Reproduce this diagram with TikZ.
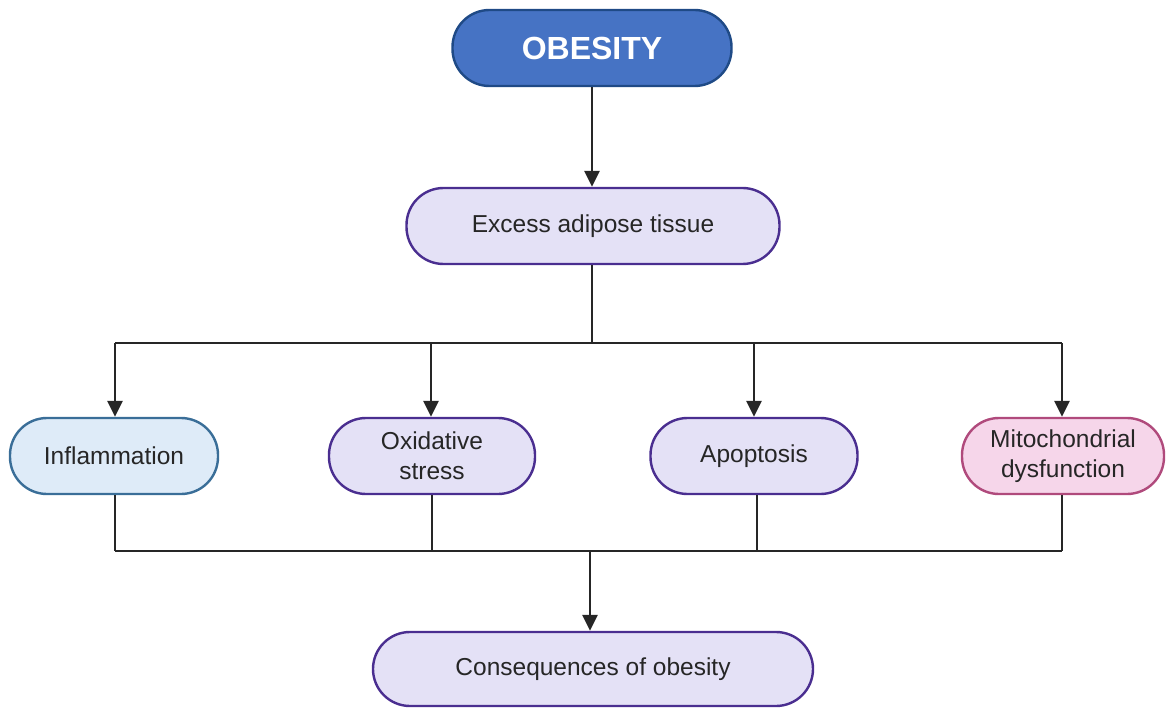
\documentclass[tikz,border=0pt]{standalone}
\usepackage{fontspec}
\setmainfont{Liberation Sans}
\usetikzlibrary{arrows.meta}
\definecolor{lineC}{HTML}{262626}
\definecolor{obFill}{HTML}{4673C4}
\definecolor{obDraw}{HTML}{1F4A86}
\definecolor{lavFill}{HTML}{E4E1F6}
\definecolor{lavDraw}{HTML}{4A2E90}
\definecolor{blueFill}{HTML}{DEEBF8}
\definecolor{blueDraw}{HTML}{3A6E98}
\definecolor{pinkFill}{HTML}{F6D6EA}
\definecolor{pinkDraw}{HTML}{B04A7C}
\definecolor{txt}{HTML}{262626}
\tikzset{
  x=1pt, y=-1pt,
  pill/.style={rectangle, rounded corners=37pt, line width=2.4pt, minimum height=76pt,
    inner sep=0pt, align=center, text=txt, font=\fontsize{24.5}{30}\selectfont},
  lav/.style={pill, fill=lavFill, draw=lavDraw},
  conn/.style={draw=lineC, line width=2.8pt},
  arr/.style={conn, -{Triangle[width=15pt,length=16pt]}},
}
\begin{document}
\begin{tikzpicture}
\useasboundingbox (0,0) rectangle (1166,708);
\node[pill, fill=obFill, draw=obDraw, minimum width=279pt, text=white,
  font=\fontsize{32}{36}\bfseries] (ob) at (592,48) {OBESITY};
\node[lav, minimum width=373pt] (ex) at (593,226) {\raisebox{-2pt}{Excess adipose tissue}};
\node[pill, fill=blueFill, draw=blueDraw, minimum width=208pt] (inf) at (114,456) {\raisebox{-2pt}{Inflammation}};
\node[lav, minimum width=206pt] (ox) at (432,456) {Oxidative\\stress};
\node[lav, minimum width=207pt] (ap) at (754,456) {\raisebox{-2pt}{Apoptosis}};
\node[pill, fill=pinkFill, draw=pinkDraw, minimum width=202pt] (mi) at (1063,456) {Mitochondrial\\dysfunction};
\node[lav, minimum width=440pt, minimum height=74pt] (co) at (593,669) {\raisebox{-2pt}{Consequences of obesity}};

\coordinate (s) at (592,343);
\coordinate (sl) at (115,343);
\coordinate (sr) at (1062,343);
\coordinate (j) at (590,551);
\coordinate (jl) at (115,551);
\coordinate (jr) at (1062,551);

\draw[arr] (ob.south -| s) -- (ex.north -| s);
\draw[conn] (ex.south -| s) -- (s);
\draw[conn] (sl) -- (sr);
\draw[arr] (sl) -- (inf.north -| sl);
\draw[arr] (s -| ox) ++(-1,0) coordinate (so) -- (ox.north -| so);
\draw[arr] (s -| ap) -- (ap.north);
\draw[arr] (sr) -- (mi.north -| sr);

\draw[conn] (inf.south -| jl) -- (jl);
\draw[conn] (ox.south) -- (ox.south |- j);
\draw[conn] (ap.south) ++(3,0) coordinate (ab) -- (ab |- j);
\draw[conn] (mi.south -| jr) -- (jr);
\draw[conn] (jl) -- (jr);
\draw[arr] (j) -- (co.north -| j);
\end{tikzpicture}
\end{document}
